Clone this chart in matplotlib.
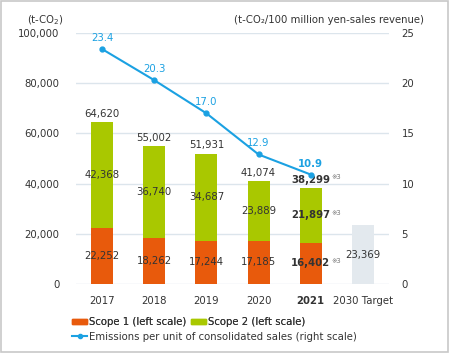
import matplotlib
matplotlib.use("Agg")
import matplotlib.pyplot as plt
from matplotlib.patches import Rectangle, Patch
from matplotlib.lines import Line2D

categories = ["2017", "2018", "2019", "2020", "2021", "2030 Target"]
scope1 = [22252, 18262, 17244, 17185, 16402]
scope2 = [42368, 36740, 34687, 23889, 21897]
totals = [64620, 55002, 51931, 41074, 38299]
target = 23369
intensity = [23.4, 20.3, 17.0, 12.9, 10.9]

C1 = "#E85A0C"
C2 = "#A9C800"
CL = "#1BA1E2"
CT = "#E3E9EE"
TXT = "#333333"
FS = 7.3

fig = plt.figure(figsize=(4.49, 3.53), dpi=100)
ax = fig.add_axes([76/449, 1-284/353, 313/449, 251/353])
ax2 = ax.twinx()

x = list(range(len(categories)))
n = len(scope1)
w = 0.42
ax.bar(x[:n], scope1, width=w, color=C1, zorder=3)
ax.bar(x[:n], scope2, width=w, bottom=scope1, color=C2, zorder=3)
ax.bar([x[n]], [target], width=w, color=CT, zorder=3)

ax.set_xlim(-0.5, 5.5)
ax.set_ylim(0, 100000)
ax.set_yticks(range(0, 100001, 20000))
ax.set_yticklabels([f"{v:,}" for v in range(0, 100001, 20000)])
ax2.set_ylim(0, 25)
ax2.set_yticks(range(0, 26, 5))
ax.grid(axis="y", color="#DCE5EC", linewidth=1, zorder=0)
ax.set_axisbelow(True)
for a in (ax, ax2):
    for s in a.spines.values():
        s.set_visible(False)
    a.tick_params(length=0, labelsize=FS, colors=TXT)
ax.tick_params(axis="y", pad=12)
ax2.tick_params(axis="y", pad=9)
ax.tick_params(axis="x", pad=9)
ax.set_xticks(x)
ax.set_xticklabels(categories)
ax.get_xticklabels()[4].set_fontweight("bold")

def lab(xx, yy, s, bold=False, note=False, axis=ax):
    t = axis.text(xx, yy, s, ha="center", va="center", fontsize=FS, color=TXT,
                  fontweight="bold" if bold else "normal", zorder=5)
    if note:
        axis.annotate("※3", xy=(1.0, 0.72), xycoords=t, xytext=(0.5, 0),
                      textcoords="offset points", ha="left", va="center",
                      fontsize=4.8, color="#777777", zorder=5)

for i in range(n):
    b = i == 4
    lab(i, scope1[i] / 2, f"{scope1[i]:,}", bold=b, note=b)
    lab(i, scope1[i] + scope2[i] / 2, f"{scope2[i]:,}", bold=b, note=b)
    lab(i, totals[i] + 3300, f"{totals[i]:,}", bold=b, note=b)
lab(5, target / 2, f"{target:,}")

ax2.plot(x[:n], intensity, color=CL, linewidth=1.5, marker="o", markersize=3.5, zorder=6)
for i, v in enumerate(intensity):
    ax2.text(i, v + 1.1, f"{v:.1f}", ha="center", va="center", fontsize=FS, color=CL,
             fontweight="bold" if i == 4 else "normal")

fig.text(64/449, 1-20/353, "(t-CO$_2$)", ha="right", va="center", fontsize=FS, color=TXT)
fig.text(424/449, 1-20/353, "(t-CO\u2082/100 million yen-sales revenue)", ha="right",
         va="center", fontsize=FS, color=TXT)

h1 = [Patch(color=C1), Patch(color=C2)]
leg1 = fig.legend(h1, ["Scope 1 (left scale)", "Scope 2 (left scale)"], ncol=2,
                  loc="center left", bbox_to_anchor=(72/449, 1-322/353), frameon=False,
                  fontsize=FS, handlelength=1.5, handleheight=0.5, handletextpad=0.15,
                  columnspacing=0.5, labelcolor=TXT, borderpad=0, borderaxespad=0)
h2 = [Line2D([], [], color=CL, linewidth=1.5, marker="o", markersize=3)]
fig.legend(h2, ["Emissions per unit of consolidated sales (right scale)"],
           loc="center left", bbox_to_anchor=(72/449, 1-337/353), frameon=False,
           fontsize=FS, handlelength=1.5, handletextpad=0.15, labelcolor=TXT,
           borderpad=0, borderaxespad=0)
fig.add_artist(leg1)

fig.patches.append(Rectangle((0.002, 0.003), 0.995, 0.994, transform=fig.transFigure,
                             fill=False, edgecolor="#C8C8C8", linewidth=1.2))

fig.savefig("out.png", dpi=100)
